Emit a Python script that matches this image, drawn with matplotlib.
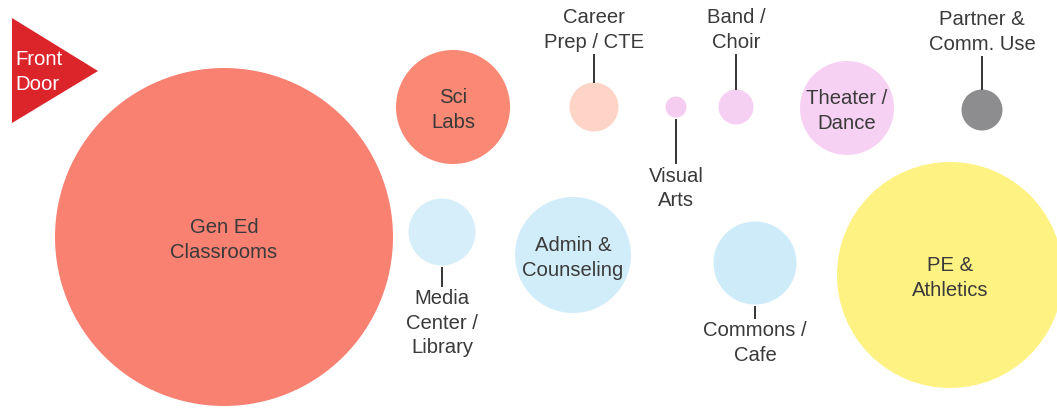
import matplotlib
matplotlib.use("Agg")
import matplotlib.pyplot as plt
from matplotlib.patches import Circle, Polygon

plt.rcParams['font.family'] = ['Liberation Sans', 'DejaVu Sans']

# space programs: name, center position, radius (px units of the canvas)
names = ["Gen Ed\nClassrooms", "Sci\nLabs", "Career\nPrep / CTE", "Visual\nArts",
         "Band /\nChoir", "Theater /\nDance", "Partner &\nComm. Use",
         "Media\nCenter /\nLibrary", "Admin &\nCounseling", "Commons /\nCafe",
         "PE &\nAthletics"]
x_pos = [224, 453, 594, 676, 736, 847, 982, 442, 573, 755, 950]
y_pos = [237, 107, 107, 107, 107, 108, 110, 232, 255, 263, 275]
radius = [169, 57, 24.5, 10.5, 17.5, 47, 20.5, 33.5, 58, 41.5, 113]
colors = ["#F98172", "#F98874", "#FDD4C6", "#F5CDF1", "#F6D0F2", "#F7D1F4",
          "#8D8D8F", "#D5EEFA", "#D2EDFA", "#CDEBF9", "#FEF283"]
# where the label sits: inside, above or below (with leader line)
label_pos = ["in", "in", "above", "below", "above", "in", "above",
             "below", "in", "below", "in"]
leader_len = [0, 0, 27, 43, 34, 0, 32, 18, 0, 11, 0]

fig = plt.figure(figsize=(10.57, 4.09), dpi=100)
ax = fig.add_axes([0, 0, 1, 1])
ax.set_xlim(0, 1057)
ax.set_ylim(409, 0)
ax.set_aspect('equal')
ax.axis('off')

txt_color = "#3a3a3a"
fs = 14.6
ls = 1.36

for name, x, y, r, c, lp, ll in zip(names, x_pos, y_pos, radius, colors, label_pos, leader_len):
    ax.add_patch(Circle((x, y), r, facecolor=c, edgecolor='none'))
    if lp == "in":
        ax.text(x, y + 3, name, ha='center', va='center', fontsize=fs,
                color=txt_color, linespacing=ls)
    elif lp == "above":
        top = y - r - 1
        ax.plot([x, x], [top, top - ll], color="#333333", lw=1.4)
        ax.text(x, top - ll - 3, name, ha='center', va='bottom', fontsize=fs,
                color=txt_color, linespacing=ls)
    else:
        bot = y + r + 2
        ax.plot([x, x], [bot, bot + ll], color="#333333", lw=1.4)
        ax.text(x, bot + ll + 4, name, ha='center', va='top', fontsize=fs,
                color=txt_color, linespacing=ls)

# front door marker
ax.add_patch(Polygon([[12, 18], [12, 123], [98, 71]], closed=True,
                     facecolor="#DC242B", edgecolor='none'))
ax.text(15, 72, "Front\nDoor", ha='left', va='center', fontsize=fs,
        color="white", linespacing=ls)

fig.savefig("out.png", dpi=100)
